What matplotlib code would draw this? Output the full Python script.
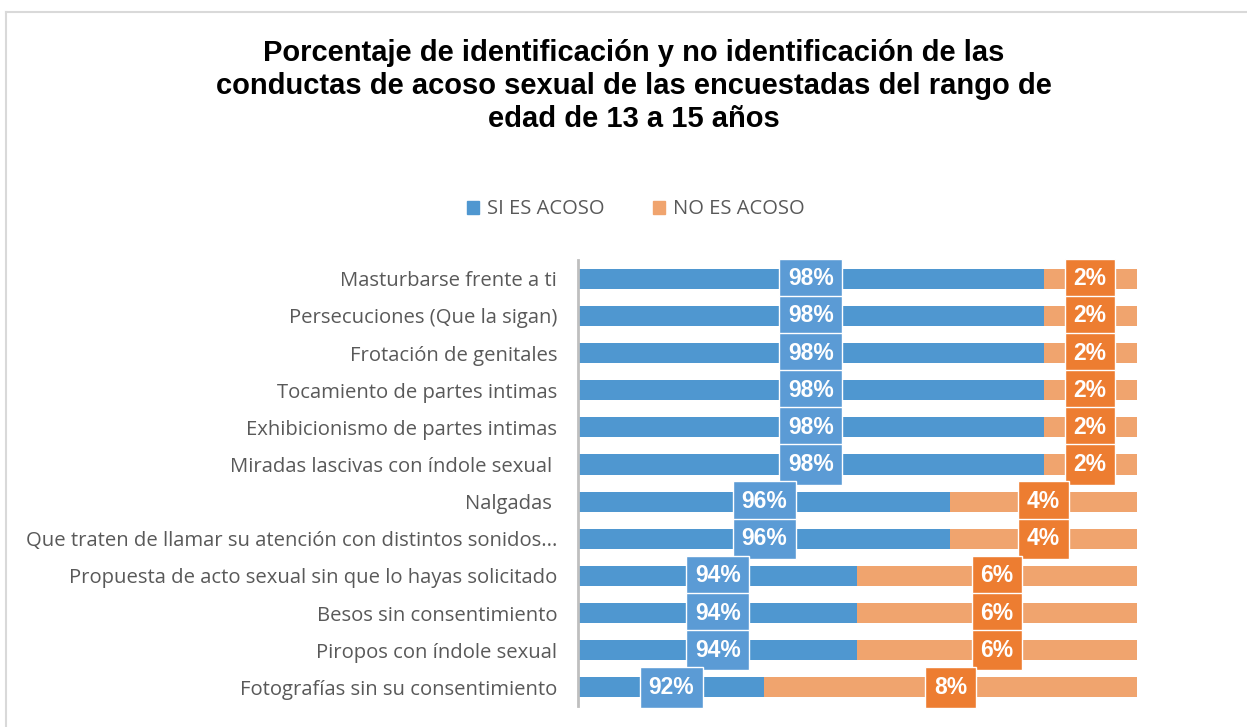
import matplotlib
matplotlib.use("Agg")
import matplotlib.pyplot as plt
from matplotlib.lines import Line2D
from matplotlib.patches import Patch

# categories top -> bottom
categories = [
    "Masturbarse frente a ti",
    "Persecuciones (Que la sigan)",
    "Frotación de genitales",
    "Tocamiento de partes intimas",
    "Exhibicionismo de partes intimas",
    "Miradas lascivas con índole sexual ",
    "Nalgadas ",
    "Que traten de llamar su atención con distintos sonidos...",
    "Propuesta de acto sexual sin que lo hayas solicitado",
    "Besos sin consentimiento",
    "Piropos con índole sexual",
    "Fotografías sin su consentimiento",
]
si_es = [0.98, 0.98, 0.98, 0.98, 0.98, 0.98, 0.96, 0.96, 0.94, 0.94, 0.94, 0.92]
no_es = [0.02, 0.02, 0.02, 0.02, 0.02, 0.02, 0.04, 0.04, 0.06, 0.06, 0.06, 0.08]
series_names = ["SI ES ACOSO", "NO ES ACOSO"]

blue = "#4F97D0"
blue_lbl = "#5B9BD5"
orange = "#F0A46E"
orange_lbl = "#ED7D31"
xmin, xmax = 0.88, 1.0

fig = plt.figure(figsize=(12.47, 7.27), dpi=100)
ax = fig.add_axes([0.4635, 0.029, 0.448, 0.613])

y = list(range(len(categories)))
ax.barh(y, si_es, height=0.54, color=blue)
ax.barh(y, no_es, left=si_es, height=0.54, color=orange)

# labels centred in the visible part of each segment
for i in y:
    c1 = (xmin + si_es[i]) / 2
    c2 = si_es[i] + no_es[i] / 2
    ax.text(c1, i, f"{si_es[i]*100:.0f}%", ha="center", va="center",
            color="white", fontsize=16.5, fontweight="bold", family="Liberation Sans",
            bbox=dict(boxstyle="square,pad=0.38", fc=blue_lbl, ec="white", lw=1))
    ax.text(c2, i, f"{no_es[i]*100:.0f}%", ha="center", va="center",
            color="white", fontsize=16.5, fontweight="bold", family="Liberation Sans",
            bbox=dict(boxstyle="square,pad=0.38", fc=orange_lbl, ec="white", lw=1))

ax.set_xlim(xmin, xmax)
ax.set_ylim(len(categories) - 0.5, -0.5)
ax.set_yticks(y)
ax.set_yticklabels(categories, fontsize=14.6, color="#595959", family="Open Sans")
ax.tick_params(axis="y", length=0, pad=15)
ax.set_xticks([])
for sp in ["top", "right", "bottom"]:
    ax.spines[sp].set_visible(False)
ax.spines["left"].set_color("#BFBFBF")
ax.spines["left"].set_linewidth(2)

fig.text(0.508, 0.882,
         "Porcentaje de identificación y no identificación de las\n"
         "conductas de acoso sexual de las encuestadas del rango de\n"
         "edad de 13 a 15 años",
         ha="center", va="center", fontsize=21, fontweight="bold",
         family="Liberation Sans", linespacing=1.24)

handles = [Patch(color=blue), Patch(color=orange)]
fig.legend(handles, series_names, loc="center", bbox_to_anchor=(0.51, 0.712),
           ncol=2, frameon=False, handlelength=0.6, handleheight=0.6,
           columnspacing=2.4, handletextpad=0.4,
           prop={"family": "Open Sans", "size": 14.5})
for t in fig.legends[0].get_texts():
    t.set_color("#595959")

# chart border (top and left visible)
fig.add_artist(Line2D([6 / 1247, 1], [1 - 12 / 727, 1 - 12 / 727], color="#D9D9D9", lw=1.5))
fig.add_artist(Line2D([6 / 1247, 6 / 1247], [1 - 12 / 727, 0], color="#D9D9D9", lw=1.5))

fig.savefig("out.png", dpi=100)
